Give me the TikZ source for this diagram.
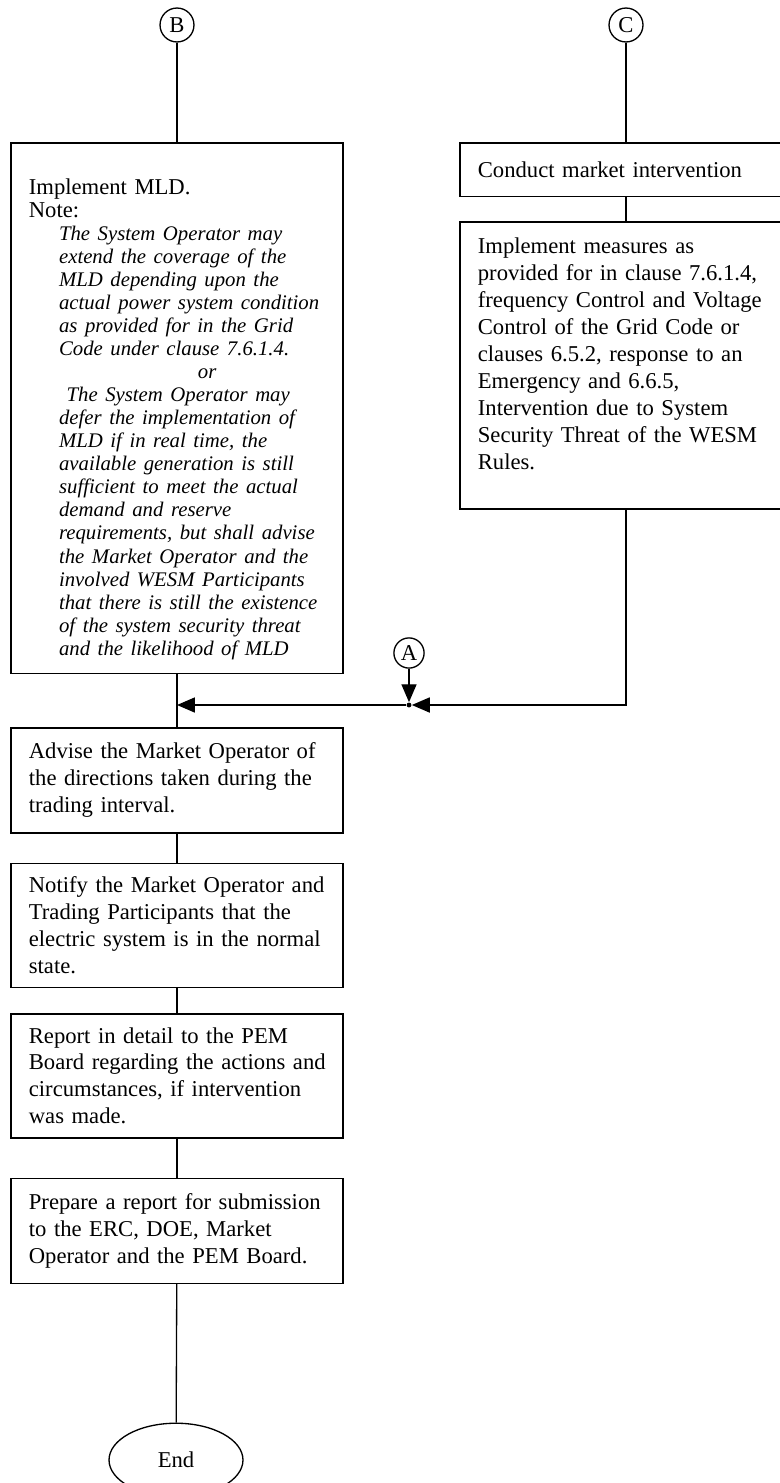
\documentclass[tikz,border=0pt]{standalone}
\usepackage{fontspec}
\setmainfont{Liberation Serif}
\usetikzlibrary{arrows.meta,positioning,shapes.geometric}

\newcommand{\notefont}{\fontsize{11}{12.2}\selectfont\itshape}
\newcommand{\noteline}[1]{\hspace*{16pt}{\notefont #1}}

\begin{document}
\begin{tikzpicture}[
    x=0.53pt, y=-0.53pt,
    box/.style={draw, line width=0.8pt, align=left, text width=157pt, inner xsep=9.5pt, inner ysep=0pt, anchor=north, font=\fontsize{12}{14.3}\selectfont},
    letter/.style={circle, draw, line width=0.7pt, inner sep=0pt, minimum size=18pt, font=\fontsize{12}{14}\selectfont},
    dot/.style={circle, fill, inner sep=0pt, minimum size=2.6pt},
    line/.style={line width=0.7pt},
    arrow/.style={-{Triangle[length=9.5pt, width=8pt]}, line width=0.7pt}
]
\useasboundingbox (0,0) rectangle (779,1483);

% entry points
\node[letter] (b) at (177,25) {B};
\node[letter] (c) at (626,25) {C};

% left branch
\node[box, minimum height=281.4pt, font=\fontsize{12}{12.2}\selectfont] (mld) at (177,142) {\rule{0pt}{20pt}Implement MLD.\\
Note:\\
\noteline{The System Operator may}\\
\noteline{extend the coverage of the}\\
\noteline{MLD depending upon the}\\
\noteline{actual power system condition}\\
\noteline{as provided for in the Grid}\\
\noteline{Code under clause 7.6.1.4.}\\
\hspace*{89.6pt}{\notefont or}\\
\noteline{\ The System Operator may}\\
\noteline{defer the implementation of}\\
\noteline{MLD if in real time, the}\\
\noteline{available generation is still}\\
\noteline{sufficient to meet the actual}\\
\noteline{demand and reserve}\\
\noteline{requirements, but shall advise}\\
\noteline{the Market Operator and the}\\
\noteline{involved WESM Participants}\\
\noteline{that there is still the existence}\\
\noteline{of the system security threat}\\
\noteline{and the likelihood of MLD}};

% right branch
\node[box, minimum height=28.6pt] (conduct) at (626,142) {Conduct market intervention};
\node[box, minimum height=152.1pt, below=12.7pt of conduct] (meas) {Implement measures as\\
provided for in clause 7.6.1.4,\\
frequency Control and Voltage\\
Control of the Grid Code or\\
clauses 6.5.2, response to an\\
Emergency and 6.6.5,\\
Intervention due to System\\
Security Threat of the WESM\\
Rules.\rule[-13pt]{0pt}{1pt}};

% merge
\node[letter, minimum size=16pt] (a) at (409,653) {A};
\node[dot] (dot) at (409,705) {};
\coordinate (join) at (177,705);

% common steps
\node[box, minimum height=55.65pt] (advise) at (177,727) {Advise the Market Operator of\\
the directions taken during the\\
trading interval.};
\node[box, minimum height=65.7pt, below=15.4pt of advise] (notify) {Notify the Market Operator and\\
Trading Participants that the\\
electric system is in the normal\\
state.};
\node[box, minimum height=65.7pt, below=13.25pt of notify] (report) {Report in detail to the PEM\\
\mbox{Board regarding the actions and}\\
circumstances, if intervention\\
was made.};
\node[box, minimum height=55.65pt, below=20.7pt of report] (prepare) {Prepare a report for submission\\
to the ERC, DOE, Market\\
Operator and the PEM Board.};
\node[ellipse, draw, line width=0.7pt, minimum width=71pt, minimum height=39pt, font=\fontsize{12}{14}\selectfont] (end) at (176,1460) {End};

\draw[line] (b) -- (mld);
\draw[line] (c) -- (conduct);
\draw[line] (conduct) -- (meas);
\draw[arrow] (meas.south) |- (dot);
\draw[arrow] (a) -- (dot);
\draw[arrow] (dot) -- (join);
\draw[line] (mld) -- (advise);
\draw[line] (advise) -- (notify);
\draw[line] (notify) -- (report);
\draw[line] (report) -- (prepare);
\draw[line] (prepare) -- (end);
\end{tikzpicture}
\end{document}
